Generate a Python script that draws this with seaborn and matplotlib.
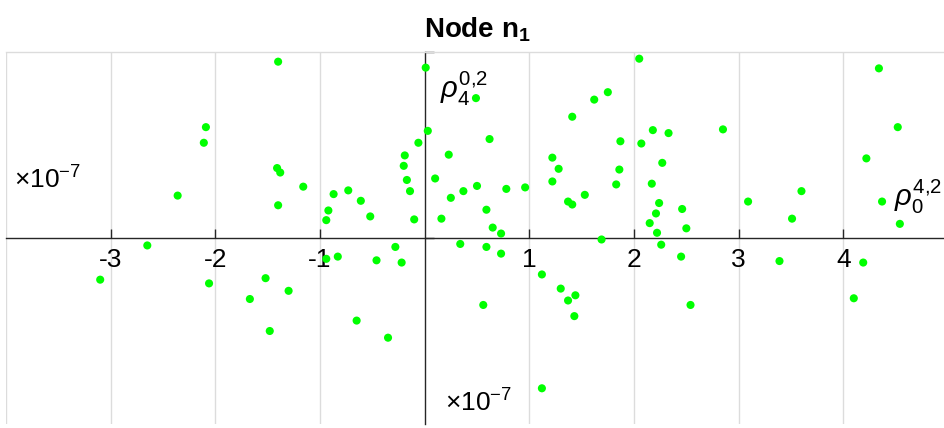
import numpy as np
import pandas as pd
import matplotlib
matplotlib.use("Agg")
import matplotlib.pyplot as plt
import seaborn as sns

# point coordinates (y in units of 1e-7)
x_vals = [-1.40, -2.09, -2.11, -1.41, -1.38, -1.16, -2.36, -1.40,
          0.01, 0.49, 0.03, 0.62, -0.06, 0.23, -0.19, -0.20, 0.10, -0.17,
          -0.14, 0.50, 0.37, 0.25, 0.78, 0.96, -0.87, -0.73, -0.61, -0.92,
          -0.94, -0.52, -0.10, 0.16, 0.59, 0.65, 0.73,
          1.41, 1.62, 1.75, 1.87, 1.22, 1.28, 1.86, 1.22, 1.83, 1.37, 1.41,
          1.53, 1.69, 2.05, 2.18, 2.33, 2.07, 2.27, 2.17, 2.24, 2.21, 2.15,
          2.22, 2.46, 2.50, 2.85, 3.09, 3.60, 3.51, 4.34, 4.52, 4.22, 4.37,
          4.54,
          -2.65, -3.10, -2.06, -1.52, -1.30, -1.67, -1.48, -0.94, -0.83,
          -0.46, -0.28, -0.22, 0.34, 0.59, 0.73, -0.65, -0.35, 0.56, 1.12,
          1.30, 1.37, 1.44, 1.43, 1.12, 2.26, 2.45, 2.54, 3.39, 4.19, 4.10]
y_vals = [2.37, 1.49, 1.28, 0.94, 0.88, 0.69, 0.57, 0.44,
          2.29, 1.88, 1.44, 1.33, 1.28, 1.12, 1.11, 0.97, 0.80, 0.78,
          0.63, 0.70, 0.63, 0.54, 0.66, 0.68, 0.59, 0.64, 0.50, 0.37,
          0.24, 0.29, 0.25, 0.26, 0.38, 0.14, 0.06,
          1.63, 1.86, 1.96, 1.30, 1.08, 0.93, 0.92, 0.76, 0.72, 0.49, 0.45,
          0.58, -0.02, 2.41, 1.45, 1.41, 1.27, 1.01, 0.73, 0.47, 0.33, 0.20,
          0.07, 0.39, 0.13, 1.46, 0.49, 0.63, 0.26, 2.28, 1.49, 1.07, 0.49,
          0.19,
          -0.10, -0.56, -0.61, -0.54, -0.71, -0.82, -1.25, -0.28, -0.25,
          -0.30, -0.12, -0.33, -0.08, -0.12, -0.21, -1.11, -1.34, -0.90, -0.49,
          -0.68, -0.84, -0.77, -1.05, -2.02, -0.09, -0.25, -0.90, -0.31, -0.33,
          -0.81]
x_ticks = [-3, -2, -1, 1, 2, 3, 4]
x_tick_labels = ["-3", "-2", "-1", "1", "2", "3", "4"]

df = pd.DataFrame({"x": x_vals, "y": y_vals})

sns.set_style("white")
plt.rcParams["font.family"] = ["Liberation Sans", "DejaVu Sans"]
plt.rcParams["mathtext.fontset"] = "custom"
plt.rcParams["mathtext.rm"] = "Liberation Sans"
plt.rcParams["mathtext.it"] = "Liberation Sans:italic"
plt.rcParams["mathtext.bf"] = "Liberation Sans:bold"
plt.rcParams["text.color"] = "black"
plt.rcParams["xtick.color"] = "black"

fig = plt.figure(figsize=(9.44, 4.28), dpi=100)
ax = fig.add_axes([6 / 944, 4 / 428, 942 / 944, 372 / 428])

sns.scatterplot(data=df, x="x", y="y", color="#00ff00", s=34,
                edgecolor="none", linewidth=0, ax=ax, zorder=3)

ax.set_xlim(-4, 5)
ax.set_ylim(-2.5, 2.5)
ax.set_xlabel("")
ax.set_ylabel("")

# axes crossing at the origin
ax.spines["left"].set_position("zero")
ax.spines["bottom"].set_position("zero")
for side in ["left", "bottom"]:
    ax.spines[side].set_color("#262626")
    ax.spines[side].set_linewidth(1.0)
ax.spines["right"].set_visible(False)
ax.spines["top"].set_color("#dcdcdc")
ax.spines["top"].set_linewidth(1.0)
ax.axvline(ax.get_xlim()[0], color="#dcdcdc", lw=1.0, zorder=0)

ax.set_xticks(x_ticks)
ax.set_xticklabels(x_tick_labels)
ax.set_yticks([0, 2.5])
ax.set_yticklabels([])
ax.tick_params(axis="x", direction="in", length=6.5, width=1, color="#262626",
               labelsize=19, labelcolor="black", pad=7, bottom=True)
ax.tick_params(axis="y", direction="in", length=6.5, width=1, color="#262626",
               left=True)
ax.grid(axis="x", color="#dcdcdc", lw=1.0)
ax.set_axisbelow(True)

ax.text(0.15, 2.0, r"$\rho_4^{0{,}2}$", fontsize=21, va="center", ha="left")
ax.text(4.48, 0.56, r"$\rho_0^{4{,}2}$", fontsize=21, va="center", ha="left")
ax.text(-3.92, 0.78, r"$\times10^{-7}$", fontsize=19, va="center", ha="left")
ax.text(0.19, -2.22, r"$\times10^{-7}$", fontsize=19, va="center", ha="left")

fig.suptitle(r"Node n$_\mathbf{1}$", x=477 / 944, y=1 - 30 / 428, va="center",
             fontsize=20, fontweight="bold", color="black")

fig.savefig("out.png", dpi=100)
